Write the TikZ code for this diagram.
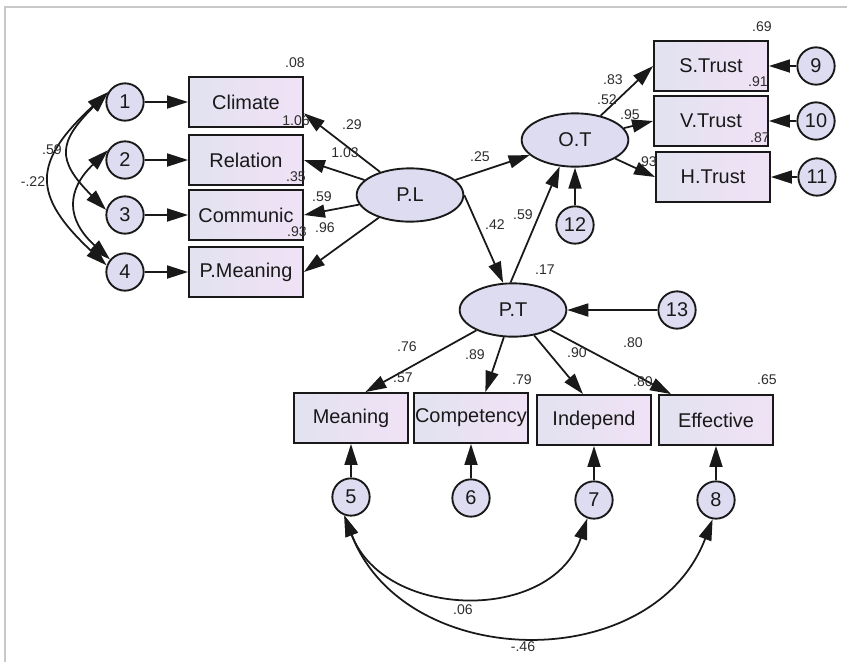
\documentclass[tikz,border=0pt]{standalone}
\usepackage{fontspec}
\setmainfont{Liberation Sans}
\usetikzlibrary{arrows.meta}
\usetikzlibrary{shapes.geometric}

\definecolor{boxL}{RGB}{226,226,240}
\definecolor{boxR}{RGB}{240,226,246}
\definecolor{errfill}{RGB}{222,220,240}
\definecolor{ink}{RGB}{25,25,25}
\definecolor{numink}{RGB}{45,45,45}
\definecolor{framegray}{RGB}{200,200,200}

\begin{document}
\begin{tikzpicture}[x=0.03cm, y=-0.03cm,
    obs/.style={draw=ink, line width=1.6pt, rectangle, left color=boxL, right color=boxR,
      minimum width=34.2mm, minimum height=15mm, inner sep=1pt, text=ink,
      font=\fontsize{17}{19}\selectfont},
    lat/.style={draw=ink, line width=1.6pt, ellipse, fill=errfill,
      minimum width=32mm, minimum height=16mm, inner sep=0pt, text=ink,
      font=\fontsize{17}{19}\selectfont},
    err/.style={draw=ink, line width=1.6pt, circle, fill=errfill,
      minimum size=11.2mm, inner sep=0pt, text=ink,
      font=\fontsize{17}{19}\selectfont},
    reg/.style={draw=ink, line width=1.5pt, -{Triangle[length=6.3mm,width=3.9mm]}},
    cov/.style={draw=ink, line width=1.5pt,
      {Triangle[length=6.3mm,width=3.9mm]}-{Triangle[length=6.3mm,width=3.9mm]}},
    lbl/.style={font=\fontsize{12}{14}\selectfont, text=numink, inner sep=0pt}]
    \useasboundingbox (0,0) rectangle (847,662);
    \draw[framegray, line width=1pt] (5,662) -- (5,7) -- (847,7);

    % P.L block
    \node[err] (e1) at (125,102) {1};
    \node[err] (e2) at (125,160) {2};
    \node[err] (e3) at (125,215) {3};
    \node[err] (e4) at (125,272) {4};
    \node[obs] (climate) at (246,102) {Climate};
    \node[obs] (relation) at (246,160) {Relation};
    \node[obs] (communic) at (246,215) {Communic};
    \node[obs] (pmeaning) at (246,272) {P.Meaning};
    \node[lat] (pl) at (410,195) {P.L};

    % O.T block
    \node[lat] (ot) at (575,140) {O.T};
    \node[obs] (strust) at (711,66) {S.Trust};
    \node[obs] (vtrust) at (711,121) {V.Trust};
    \node[obs] (htrust) at (713,177) {H.Trust};
    \node[err] (e9) at (816,66) {9};
    \node[err] (e10) at (816,121) {10};
    \node[err] (e11) at (817,177) {11};
    \node[err] (e12) at (575,225) {12};

    % P.T block
    \node[lat] (pt) at (513,310) {P.T};
    \node[err] (e13) at (677,310) {13};
    \node[obs] (meaning) at (351,418) {Meaning};
    \node[obs] (competency) at (471,418) {Competency};
    \node[obs] (independ) at (594,420) {Independ};
    \node[obs] (effective) at (716,420) {Effective};
    \node[err] (e5) at (351,497) {5};
    \node[err] (e6) at (471,498) {6};
    \node[err] (e7) at (594,500) {7};
    \node[err] (e8) at (716,500) {8};

    \draw[reg] (e1) -- (climate);
    \draw[reg] (e2) -- (relation);
    \draw[reg] (e3) -- (communic);
    \draw[reg] (e4) -- (pmeaning);
    \draw[reg] (pl) -- (climate.-11);
    \draw[reg] (pl) -- (relation.east);
    \draw[reg] (pl) -- (communic.east);
    \draw[reg] (pl) -- (pmeaning.east);
    \draw[reg] (pl) -- (ot);
    \draw[reg] (pl.east) -- (pt.110);
    \draw[reg] (pt.95) -- (ot.240);
    \draw[reg] (e12) -- (ot);
    \draw[reg] (ot) -- (strust.west);
    \draw[reg] (ot) -- (vtrust.west);
    \draw[reg] (ot) -- (htrust.west);
    \draw[reg] (e9) -- (strust);
    \draw[reg] (e10) -- (vtrust);
    \draw[reg] (e11) -- (htrust);
    \draw[reg] (e13) -- (pt);
    \draw[reg] (pt) -- (meaning.61);
    \draw[reg] (pt) -- (competency.61);
    \draw[reg] (pt) -- (independ.113);
    \draw[reg] (pt) -- (effective.150);
    \draw[reg] (e5) -- (meaning);
    \draw[reg] (e6) -- (competency);
    \draw[reg] (e7) -- (independ);
    \draw[reg] (e8) -- (effective);

    % covariances
    \draw[cov] (e1.150) .. controls +(-50,50) and +(-50,-50) .. (e3.165);
    \draw[cov] (e1.150) .. controls +(-76,70) and +(-75,-70) .. (e4.160);
    \draw[cov] (e2.150) .. controls +(-42,40) and +(-44,-40) .. (e4.140);
    \draw[cov] (e5.250) .. controls +(40,105) and +(-35,105) .. (e7.250);
    \draw[cov] (e5.250) .. controls +(60,157) and +(-60,157) .. (e8.260);

    % estimates
    \foreach \x/\y/\t [count=\i] in {295/63/.08, 296/121/1.06, 352/125/.29, 345/153/1.03,
        296/177/.35, 322/197/.59, 297/232/.93, 325/228/.96, 52/150/.59, 33/182/-.22,
        480/157/.25, 495/225/.42, 523/215/.59, 613/80/.83, 607/100/.52, 630/115/.95,
        762/27/.69, 758/82/.91, 760/138/.87, 647/162/.93, 545/270/.17, 407/347/.76,
        475/355/.89, 577/353/.90, 633/343/.80, 403/378/.57, 522/380/.79, 643/382/.80,
        767/380/.65, 463/610/.06, 523/647/-.46}
      \node[lbl] (v\i) at (\x,\y) {\t};
\end{tikzpicture}
\end{document}
